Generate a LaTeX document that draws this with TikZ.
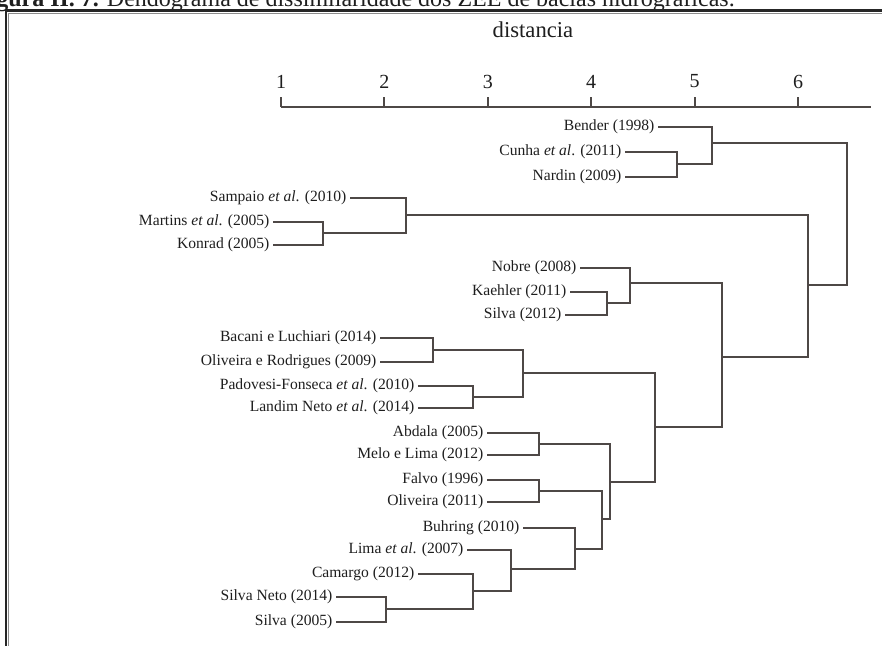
\documentclass[tikz,border=0pt]{standalone}
\usepackage{fontspec}
\setmainfont{Liberation Serif}
\usetikzlibrary{positioning}

\definecolor{branch}{HTML}{4E4846}
\definecolor{ink}{HTML}{1E1E1E}

\begin{document}
\begin{tikzpicture}[x=0.75pt, y=-0.75pt,
  leaf/.style={anchor=east, inner sep=2.5pt, text=ink, font=\fontsize{11.7}{13}\selectfont},
  link/.style={draw=branch, line width=1.6pt},
  tick/.style={text=ink, font=\fontsize{15}{17}\selectfont}]

\clip (0,0) rectangle (882,646);

% caption, cut at the top of the page
\node[anchor=base east, inner sep=0, text=ink, font=\fontsize{18}{20}\selectfont] (cap) at (735,6.5)
  {\textbf{Figura II. 7.} Dendograma de dissimilaridade dos ZEE de bacias hidrográficas.};

% frame
\draw[line width=1.6pt, black!85] (6,646) -- (6,10.5) -- (882,10.5);
\draw[line width=0.6pt, black!45] (8.8,646) -- (8.8,13.2) -- (882,13.2);

\node[text=ink, font=\fontsize{17}{19}\selectfont] (dist) at (533,30) {distancia};

% axis
\def\ay{107}
\coordinate (a0) at (281,\ay);
\coordinate (a1) at (871,\ay);
\coordinate (t1) at (281,\ay);
\coordinate (t2) at (384.4,\ay);
\coordinate (t3) at (487.8,\ay);
\coordinate (t4) at (591.2,\ay);
\coordinate (t5) at (694.6,\ay);
\coordinate (t6) at (798,\ay);
\node[tick] (n1) at (281,81.5) {1};
\node[tick] (n2) at (384.4,81.5) {2};
\node[tick] (n3) at (487.8,81.5) {3};
\node[tick] (n4) at (591.2,81.5) {4};
\node[tick] (n5) at (694.6,81.5) {5};
\node[tick] (n6) at (798,81.5) {6};
\draw[link] (a0) -- (a1);
\draw[link] (t1) -- ++(0,-10);
\draw[link] (t2) -- ++(0,-10);
\draw[link] (t3) -- ++(0,-10);
\draw[link] (t4) -- ++(0,-10);
\draw[link] (t5) -- ++(0,-10);
\draw[link] (t6) -- ++(0,-10);

% leaves
\node[leaf] (bender) at (658,127) {Bender (1998)};
\node[leaf] (cunha) at (625,152) {Cunha \textit{et al}. (2011)};
\node[leaf] (nardin) at (625,177) {Nardin (2009)};
\node[leaf] (sampaio) at (350,198) {Sampaio \textit{et al}. (2010)};
\node[leaf] (martins) at (273,222) {Martins \textit{et al}. (2005)};
\node[leaf] (konrad) at (273,245) {Konrad (2005)};
\node[leaf] (nobre) at (580,268) {Nobre (2008)};
\node[leaf] (kaehler) at (570,292) {Kaehler (2011)};
\node[leaf] (silvaA) at (565,315) {Silva (2012)};
\node[leaf] (bacani) at (380,338) {Bacani e Luchiari (2014)};
\node[leaf] (olirod) at (380,362) {Oliveira e Rodrigues (2009)};
\node[leaf] (padovesi) at (418,386) {Padovesi-Fonseca \textit{et al}. (2010)};
\node[leaf] (landim) at (418,408) {Landim Neto \textit{et al}. (2014)};
\node[leaf] (abdala) at (487,433) {Abdala (2005)};
\node[leaf] (melo) at (487,455) {Melo e Lima (2012)};
\node[leaf] (falvo) at (487,480) {Falvo (1996)};
\node[leaf] (oliveira) at (487,502) {Oliveira (2011)};
\node[leaf] (buhring) at (523,528) {Buhring (2010)};
\node[leaf] (lima) at (467,550) {Lima \textit{et al}. (2007)};
\node[leaf] (camargo) at (418,574) {Camargo (2012)};
\node[leaf] (silvaneto) at (336,597) {Silva Neto (2014)};
\node[leaf] (silvaB) at (336,622) {Silva (2005)};

% joins
\coordinate (jcn) at (677,164);
\coordinate (jbcn) at (712,143);
\coordinate (jmk) at (323,233);
\coordinate (jsmk) at (406,215);
\coordinate (jks) at (607,303);
\coordinate (jnks) at (630,283);
\coordinate (jbo) at (433,350);
\coordinate (jpl) at (473,397);
\coordinate (jbopl) at (523,373);
\coordinate (jam) at (539,444);
\coordinate (jfo) at (539,491);
\coordinate (jss) at (386,609);
\coordinate (jcss) at (473,591);
\coordinate (jlcss) at (511,569);
\coordinate (jblcss) at (575,549);
\coordinate (jfob) at (602,519);
\coordinate (jamfo) at (610,482);
\coordinate (jbig) at (655,427);
\coordinate (jnbig) at (722,357);
\coordinate (js2) at (808,285);
\coordinate (jroot) at (847,214);

\draw[link] (cunha.east) -| (jcn) |- (nardin.east);
\draw[link] (bender.east) -| (jbcn) |- (jcn);
\draw[link] (martins.east) -| (jmk) |- (konrad.east);
\draw[link] (sampaio.east) -| (jsmk) |- (jmk);
\draw[link] (kaehler.east) -| (jks) |- (silvaA.east);
\draw[link] (nobre.east) -| (jnks) |- (jks);
\draw[link] (bacani.east) -| (jbo) |- (olirod.east);
\draw[link] (padovesi.east) -| (jpl) |- (landim.east);
\draw[link] (jbo) -| (jbopl) |- (jpl);
\draw[link] (abdala.east) -| (jam) |- (melo.east);
\draw[link] (falvo.east) -| (jfo) |- (oliveira.east);
\draw[link] (silvaneto.east) -| (jss) |- (silvaB.east);
\draw[link] (camargo.east) -| (jcss) |- (jss);
\draw[link] (lima.east) -| (jlcss) |- (jcss);
\draw[link] (buhring.east) -| (jblcss) |- (jlcss);
\draw[link] (jfo) -| (jfob) |- (jblcss);
\draw[link] (jam) -| (jamfo) |- (jfob);
\draw[link] (jbopl) -| (jbig) |- (jamfo);
\draw[link] (jnks) -| (jnbig) |- (jbig);
\draw[link] (jsmk) -| (js2) |- (jnbig);
\draw[link] (jbcn) -| (jroot) |- (js2);

\end{tikzpicture}
\end{document}
